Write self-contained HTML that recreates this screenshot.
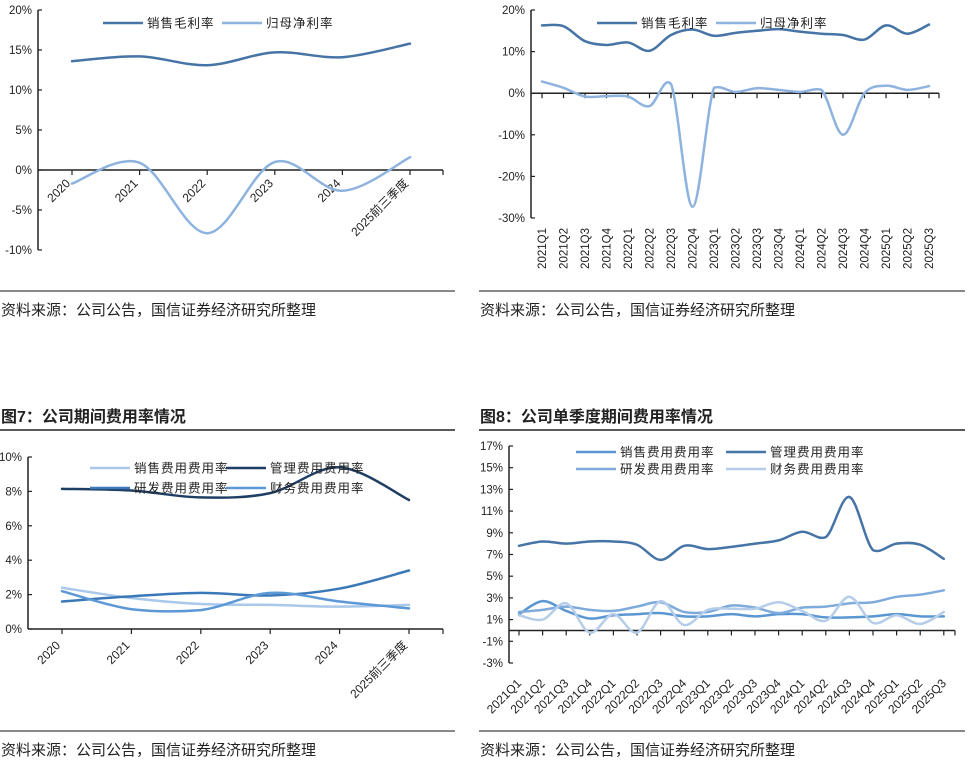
<!DOCTYPE html>
<html><head><meta charset="utf-8">
<style>
body{margin:0;background:#fff;width:972px;height:766px;overflow:hidden;font-family:"Liberation Sans","Noto Sans CJK SC",sans-serif;}
svg{position:absolute;left:0;top:0}
text{font-family:"Liberation Sans","Noto Sans CJK SC",sans-serif;fill:#222}
</style></head>
<body>
<svg id="s" width="972" height="766" viewBox="0 0 972 766"></svg>
<script>
// ---- Chart 1 data ----
const c1Cats=["2020","2021","2022","2023","2024","2025前三季度"];
const c1Gross=[13.6,14.2,13.1,14.7,14.1,15.8];
const c1Net=[-1.7,0.9,-7.9,1.0,-2.6,1.6];
const c1Ticks=[20,15,10,5,0,-5,-10];
// ---- Chart 2 data ----
const c2Cats=["2021Q1","2021Q2","2021Q3","2021Q4","2022Q1","2022Q2","2022Q3","2022Q4","2023Q1","2023Q2","2023Q3","2023Q4","2024Q1","2024Q2","2024Q3","2024Q4","2025Q1","2025Q2","2025Q3"];
const c2Gross=[16.3,16.1,12.5,11.6,12.2,10.2,14.0,15.3,13.8,14.5,15.0,15.4,14.8,14.3,14.0,12.9,16.3,14.3,16.5];
const c2Net=[2.8,1.3,-0.8,-0.7,-0.8,-3.1,2.2,-27.3,1.3,0.3,1.2,0.8,0.3,0.8,-10.0,0,1.8,0.8,1.7];
const c2Ticks=[20,10,0,-10,-20,-30];
// ---- Chart 3 data ----
const c3Cats=["2020","2021","2022","2023","2024","2025前三季度"];
const c3Sales=[2.4,1.8,1.45,1.4,1.3,1.4];
const c3Mgmt=[8.15,8.05,7.65,7.9,9.4,7.5];
const c3RD=[1.6,1.9,2.1,1.95,2.35,3.4];
const c3Fin=[2.2,1.15,1.1,2.1,1.6,1.2];
const c3Ticks=[10,8,6,4,2,0];
// ---- Chart 4 data ----
const c4Cats=c2Cats;
const c4Sales=[1.5,2.7,1.8,1.1,1.4,1.5,1.6,1.3,1.3,1.5,1.3,1.5,1.5,1.2,1.2,1.3,1.5,1.3,1.3];
const c4Mgmt=[7.8,8.2,8.0,8.2,8.2,7.9,6.5,7.8,7.5,7.7,8.0,8.3,9.1,8.6,12.3,7.4,8.0,7.9,6.6];
const c4RD=[1.7,1.9,2.2,1.9,1.8,2.2,2.6,1.7,1.7,2.3,2.1,1.6,2.1,2.2,2.5,2.6,3.1,3.3,3.7];
const c4Fin=[1.4,1.0,2.5,-0.2,1.5,-0.2,2.7,0.5,1.9,2.0,2.0,2.6,1.8,0.9,3.1,0.7,1.4,0.6,1.7];
const c4Ticks=[17,15,13,11,9,7,5,3,1,-1,-3];

const NS="http://www.w3.org/2000/svg";
const svg=document.getElementById('s');
function el(tag,attrs,parent,txt){const e=document.createElementNS(NS,tag);for(const k in attrs)e.setAttribute(k,attrs[k]);if(txt!==undefined)e.textContent=txt;(parent||svg).appendChild(e);return e;}
function smooth(pts){let d=`M${pts[0][0]},${pts[0][1]}`;
  for(let i=0;i<pts.length-1;i++){const p0=pts[i-1]||pts[i],p1=pts[i],p2=pts[i+1],p3=pts[i+2]||p2;const t=6;
    let c1y=p1[1]+(p2[1]-p0[1])/t, c2y=p2[1]-(p3[1]-p1[1])/t;
    // limit overshoot
    const lo=Math.min(p1[1],p2[1]),hi=Math.max(p1[1],p2[1]),m=(hi-lo)*0.35+1.5;
    c1y=Math.max(lo-m,Math.min(hi+m,c1y));c2y=Math.max(lo-m,Math.min(hi+m,c2y));
    d+=` C${p1[0]+(p2[0]-p0[0])/t},${c1y} ${p2[0]-(p3[0]-p1[0])/t},${c2y} ${p2[0]},${p2[1]}`;}
  return d;}

function chart(cfg){
  const g=el('g',{});
  
  
  const y=v=>cfg.y0-(v-cfg.vMin)*(cfg.y0-cfg.y1)/(cfg.vMax-cfg.vMin);
  const x=i=>cfg.x0+i*cfg.dx;
  const ax=el('line',{x1:cfg.ax,y1:y(cfg.vMax),x2:cfg.ax,y2:y(cfg.vMin),stroke:'#222','stroke-width':1.5},g);
  
  cfg.ticks.forEach(t=>{
    el('line',{x1:cfg.ax,y1:y(t),x2:cfg.ax+4,y2:y(t),stroke:'#222','stroke-width':1.2},g);
    const tl=el('text',{x:cfg.ax-6,y:y(t)+4,'font-size':11.5,'text-anchor':'end'},g,t+'%');
    
  });
  const zy=y(0);
  const xa=el('line',{x1:cfg.ax,y1:zy,x2:cfg.axEnd,y2:zy,stroke:'#222','stroke-width':1.5},g);
  
  cfg.cats.forEach((c,i)=>{
    el('line',{x1:x(i),y1:zy,x2:x(i),y2:zy+5,stroke:'#222','stroke-width':1.2},g);
  });
  el('line',{x1:cfg.axEnd,y1:zy,x2:cfg.axEnd,y2:zy+5,stroke:'#222','stroke-width':1.2},g);
  cfg.cats.forEach((c,i)=>{
    let t;
    if(cfg.rot===-90){t=el('text',{x:0,y:0,'font-size':11.5,'text-anchor':'end',transform:`translate(${x(i)+4},${cfg.labY}) rotate(-90)`},g,c);}
    else{const lx=x(i)+(cfg.labDx||0);t=el('text',{x:0,y:0,'font-size':12,'text-anchor':'end',transform:`translate(${lx},${cfg.labY}) rotate(-45)`},g,c);}
    
  });
  cfg.series.forEach(s=>{
    const p=el('path',{d:smooth(s.data.map((v,i)=>[x(i),y(v)])),fill:'none',stroke:s.color,'stroke-width':2.5,'stroke-linecap':'round'},g);
    
  });
  cfg.series.forEach(s=>{
    const lg=el('g',{},g);
    
    el('line',{x1:s.lx,y1:s.ly,x2:s.lx+40,y2:s.ly,stroke:s.color,'stroke-width':2.5},lg);
    el('text',{x:s.lx+44,y:s.ly+4.5,'font-size':12.5,'letter-spacing':'1'},lg,s.label);
  });
}

chart({name:'chart-annual-margins',ax:38,axEnd:443,x0:72,dx:67.6,y0:250,y1:10,vMin:-10,vMax:20,ticks:c1Ticks,cats:c1Cats,rot:-45,labY:184,labDx:-1,
 series:[{key:'gross-margin',label:'销售毛利率',data:c1Gross,color:'#4674a6',lx:103,ly:23},{key:'net-margin',label:'归母净利率',data:c1Net,color:'#8db3de',lx:222,ly:23}]});
chart({name:'chart-quarterly-margins',ax:531,axEnd:939,x0:542,dx:21.5,y0:218,y1:10,vMin:-30,vMax:20,ticks:c2Ticks,cats:c2Cats,rot:-90,labY:228,
 series:[{key:'gross-margin',label:'销售毛利率',data:c2Gross,color:'#4674a6',lx:597,ly:23},{key:'net-margin',label:'归母净利率',data:c2Net,color:'#8db3de',lx:716,ly:23}]});
chart({name:'chart-annual-expense-ratios',ax:28,axEnd:443,x0:62,dx:69.4,y0:629,y1:457,vMin:0,vMax:10,ticks:c3Ticks,cats:c3Cats,rot:-45,labY:646,labDx:-1,
 series:[{key:'sales-expense',label:'销售费用费用率',data:c3Sales,color:'#a9c8ea',lx:90,ly:468},{key:'admin-expense',label:'管理费用费用率',data:c3Mgmt,color:'#1f3e63',lx:226,ly:468},
 {key:'rd-expense',label:'研发费用费用率',data:c3RD,color:'#3b78b7',lx:90,ly:488},{key:'finance-expense',label:'财务费用费用率',data:c3Fin,color:'#5d98d6',lx:226,ly:488}]});
chart({name:'chart-quarterly-expense-ratios',ax:509,axEnd:955,x0:519,dx:23.6,y0:663,y1:446,vMin:-3,vMax:17,ticks:c4Ticks,cats:c4Cats,rot:-45,labY:684,labDx:3,
 series:[{key:'sales-expense',label:'销售费用费用率',data:c4Sales,color:'#5a96d2',lx:576,ly:452},{key:'admin-expense',label:'管理费用费用率',data:c4Mgmt,color:'#4674a6',lx:726,ly:452},
 {key:'rd-expense',label:'研发费用费用率',data:c4RD,color:'#7eaadc',lx:576,ly:469},{key:'finance-expense',label:'财务费用费用率',data:c4Fin,color:'#b6cde9',lx:726,ly:469}]});

// titles, rules, sources
function txt(name,x,y,s,size,weight){const t=el('text',{x:x,y:y,'font-size':size,'font-weight':weight||'normal'},svg,s);}
function rule(name,x1,x2,y,w,c){const l=el('line',{x1:x1,y1:y,x2:x2,y2:y,stroke:c,'stroke-width':w});}
rule('source-rule-1',0,455,291,2,'#888');rule('source-rule-2',479,965,291,2,'#888');
rule('source-rule-3',0,455,731,2,'#888');rule('source-rule-4',479,965,731,2,'#888');
rule('title-rule-7',0,455,430,1.5,'#222');rule('title-rule-8',479,965,430,1.5,'#222');
txt('source-note-1',1,315,'资料来源：公司公告，国信证券经济研究所整理',15);
txt('source-note-2',480,315,'资料来源：公司公告，国信证券经济研究所整理',15);
txt('source-note-3',1,755,'资料来源：公司公告，国信证券经济研究所整理',15);
txt('source-note-4',480,755,'资料来源：公司公告，国信证券经济研究所整理',15);
txt('figure-7-title',1,422,'图7：公司期间费用率情况',16,'bold');
txt('figure-8-title',480,422,'图8：公司单季度期间费用率情况',16,'bold');
</script>
</body></html>
